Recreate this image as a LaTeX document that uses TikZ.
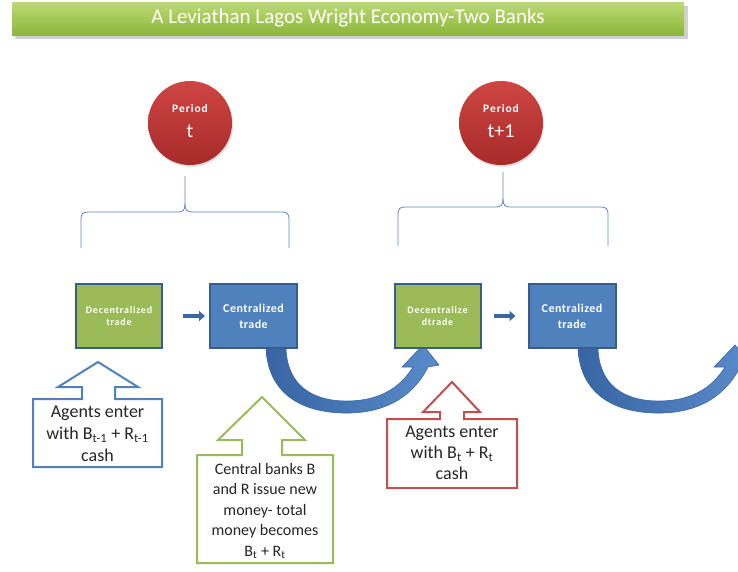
\documentclass[tikz,border=0pt]{standalone}
\usepackage{fontspec}
\setmainfont{Carlito}
\newfontfamily\spacedfont[LetterSpace=8]{Carlito}
\newfontfamily\lightspaced[LetterSpace=4]{Carlito}
\usetikzlibrary{shadows,arrows.meta}
\definecolor{boxgreen}{HTML}{9BBB59}
\definecolor{boxblue}{HTML}{4F81BD}
\definecolor{edgeblue}{HTML}{385D8A}
\definecolor{calred}{HTML}{C0504D}
\definecolor{redtop}{HTML}{CD4643}
\definecolor{redbot}{HTML}{A82A29}
\definecolor{titletop}{HTML}{BCDA74}
\definecolor{titlebot}{HTML}{8DB73B}
\definecolor{arrowblue}{HTML}{3C67A3}
\definecolor{curvedark}{HTML}{3865A3}
\definecolor{curvelight}{HTML}{5A8BCA}
\definecolor{bracecol}{HTML}{5B87C2}
\definecolor{txtdark}{HTML}{262626}
\tikzset{
  tradebox/.style={draw=edgeblue, line width=2pt, minimum height=64pt, inner sep=2pt, align=center, text=white},
  greenbox/.style={tradebox, fill=boxgreen, minimum width=86pt, font=\spacedfont\bfseries\fontsize{10}{12.5}\selectfont},
  bluebox/.style={tradebox, fill=boxblue, minimum width=87pt, font=\lightspaced\bfseries\fontsize{12}{16}\selectfont},
  periodcircle/.style={circle, minimum size=84pt, inner sep=0pt, top color=redtop, bottom color=redbot, draw=none,
    drop shadow={opacity=0.25, shadow xshift=1pt, shadow yshift=-2pt}},
  bracestyle/.style={draw=bracecol, line width=0.8pt},
  flow/.style={draw=arrowblue, line width=3.5pt, -{Triangle[length=6pt,width=10pt]}},
  curvearrow/.style={left color=curvedark, right color=curvelight, draw=curvedark, line width=0.6pt},
  callout/.style={line width=2pt, fill=white, line join=miter},
  callouttext/.style={align=center, text=txtdark, inner sep=0pt},
}
\begin{document}
\begin{tikzpicture}[x=1pt,y=-1pt]
\useasboundingbox (0,0) rectangle (738,571);
\begin{scope}
\clip (0,0) rectangle (738,571);
% title
\fill[black, opacity=0.18] (15,6) rectangle (688,39);
\node[top color=titletop, bottom color=titlebot, minimum width=672pt, minimum height=33pt, inner sep=0pt,
  text=white, font=\fontsize{21}{24}\selectfont] (title) at (348,18.5) {A Leviathan Lagos Wright Economy-Two Banks};
% period circles
\node[periodcircle] (p1) at (190,123) {};
\node[periodcircle] (p2) at (501,123) {};
\node[text=white, font=\spacedfont\bfseries\fontsize{11.5}{13}\selectfont] (p1a) at (190,109) {Period};
\node[text=white, font=\fontsize{20}{22}\selectfont] (p1b) at (190,131) {t};
\node[text=white, font=\spacedfont\bfseries\fontsize{11.5}{13}\selectfont] (p2a) at (501,109) {Period};
\node[text=white, font=\fontsize{20}{22}\selectfont] (p2b) at (501,131) {t+1};
% braces
\draw[bracestyle] (81,248) -- (81,219) .. controls (81,214) and (83,212) .. (88,212) -- (178,212)
  .. controls (183,212) and (185,210) .. (185,204) -- (185,176);
\draw[bracestyle] (289,248) -- (289,219) .. controls (289,214) and (287,212) .. (282,212) -- (192,212)
  .. controls (187,212) and (185,210) .. (185,204);
\draw[bracestyle] (398,246) -- (398,214) .. controls (398,209) and (400,207) .. (405,207) -- (496,207)
  .. controls (501,207) and (503,205) .. (503,199) -- (503,172);
\draw[bracestyle] (608,246) -- (608,214) .. controls (608,209) and (606,207) .. (601,207) -- (510,207)
  .. controls (505,207) and (503,205) .. (503,199);
% curved arrows
\foreach \dx in {0,312}{
\begin{scope}[xshift=\dx pt]
\path[curvearrow] (266,348) .. controls (268,396) and (305,414) .. (350,413)
  .. controls (390,412) and (415,393) .. (428,367) -- (439,365) -- (423,345) -- (402,367) -- (413,367)
  .. controls (400,388) and (380,400) .. (350,401)
  .. controls (312,402) and (287,385) .. (286,348) -- cycle;
\end{scope}}
% trade boxes
\node[greenbox] (d1) at (119,316) {Decentralized\\trade};
\node[bluebox] (c1) at (253.5,316) {Centralized\\trade};
\node[greenbox] (d2) at (437.5,316) {Decentralize\\dtrade};
\node[bluebox] (c2) at (572,316) {Centralized\\trade};
\draw[flow, shorten <=20pt, shorten >=4pt] (d1.east) -- (c1.west);
\draw[flow, shorten <=12pt, shorten >=12pt] (d2.east) -- (c2.west);
% callouts
\draw[callout, draw=boxblue] (33,399) -- (82,399) -- (82,387) -- (58,387) -- (98,362) -- (138,387)
  -- (115,387) -- (115,399) -- (162,399) -- (162,467) -- (33,467) -- cycle;
\node[callouttext, font=\fontsize{18}{22}\selectfont] (t1) at (97.5,434)
  {Agents enter\\with B\textsubscript{t-1} + R\textsubscript{t-1}\\cash};
\draw[callout, draw=boxgreen] (197,455) -- (242,455) -- (242,440) -- (218,440) -- (262,397) -- (305,440)
  -- (282,440) -- (282,455) -- (333,455) -- (333,563) -- (197,563) -- cycle;
\node[callouttext, font=\fontsize{16}{20.5}\selectfont] (t2) at (265,511)
  {Central banks B\\and R issue new\\money- total\\money becomes\\B\textsubscript{t} + R\textsubscript{t}};
\draw[callout, draw=calred] (387,419) -- (440,419) -- (440,412) -- (423,412) -- (452,382) -- (480,412)
  -- (464,412) -- (464,419) -- (517,419) -- (517,488) -- (387,488) -- cycle;
\node[callouttext, font=\fontsize{18}{21}\selectfont] (t3) at (452,453)
  {Agents enter\\with B\textsubscript{t} + R\textsubscript{t}\\cash};
\end{scope}
\end{tikzpicture}
\end{document}
